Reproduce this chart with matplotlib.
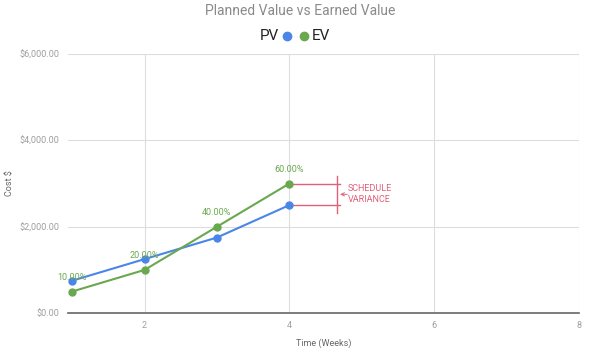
import matplotlib.pyplot as plt
from matplotlib.lines import Line2D

plt.rcParams['font.family'] = ['Roboto', 'DejaVu Sans']

# chart data
weeks = [1, 2, 3, 4]
pv = [750, 1250, 1750, 2500]
ev = [500, 1000, 2000, 3000]
ev_labels = ['10.00%', '20.00%', '40.00%', '60.00%']
x_ticks = [2, 4, 6, 8]
y_ticks = [0, 2000, 4000, 6000]
y_tick_labels = ['$0.00', '$2,000.00', '$4,000.00', '$6,000.00']

blue = '#4a86e8'
green = '#6aa84f'
red = '#e0607a'
grey = '#9e9e9e'

fig = plt.figure(figsize=(6, 3.55), dpi=100)
ax = fig.add_axes([0.113, 0.118, 0.852, 0.730])

ax.plot(weeks, pv, color=blue, lw=1.5, marker='o', ms=5, zorder=3)
ax.plot(weeks, ev, color=green, lw=1.5, marker='o', ms=5, zorder=3)

# data labels above the EV points
for x, y, lab in zip(weeks, ev, ev_labels):
    ax.annotate(lab, (x, y), xytext=(0, 7), textcoords='offset points',
                ha='center', va='bottom', fontsize=6.5, color=green)

# schedule variance marker
x_end = weeks[-1] + 0.70
x_bar = weeks[-1] + 0.66
ax.plot([weeks[-1], x_end], [ev[-1], ev[-1]], color=red, lw=1, zorder=2)
ax.plot([weeks[-1], x_end], [pv[-1], pv[-1]], color=red, lw=1, zorder=2)
ax.plot([x_bar, x_bar], [pv[-1] - 185, ev[-1] + 185], color=red, lw=1, zorder=2)
mid = (ev[-1] + pv[-1]) / 2
ax.annotate('', xy=(x_bar + 0.04, mid), xytext=(x_bar + 0.14, mid),
            arrowprops=dict(arrowstyle='->', color=red, lw=0.7,
                            mutation_scale=6, shrinkA=0, shrinkB=0))
ax.text(x_bar + 0.15, mid, 'SCHEDULE\nVARIANCE', color=red, fontsize=6.5,
        ha='left', va='center', linespacing=1.3)

ax.set_xlim(0.94, 8)
ax.set_ylim(0, 6000)
ax.set_xticks(x_ticks)
ax.set_yticks(y_ticks)
ax.set_yticklabels(y_tick_labels)
ax.tick_params(length=0, labelsize=6.5, colors=grey, pad=6)
ax.grid(True, color='#dddddd', lw=0.8)
ax.set_axisbelow(True)
for s in ['top', 'right', 'left']:
    ax.spines[s].set_visible(False)
ax.spines['bottom'].set_color('#666666')
ax.spines['bottom'].set_linewidth(1.2)

ax.set_xlabel('Time (Weeks)', fontsize=6.5, color='#666666')
ax.set_ylabel('Cost $', fontsize=6.5, color='#666666')
ax.xaxis.set_label_coords(0.5, -0.097)
ax.yaxis.set_label_coords(-0.104, 0.5)

fig.text(0.5, 0.969, 'Planned Value vs Earned Value', ha='center', va='center',
         fontsize=10, color='#8a8a8a')

# legend: "PV ●  ● EV"
fig.text(0.465, 0.898, 'PV', ha='right', va='center', fontsize=11, color='#222222')
fig.text(0.519, 0.898, 'EV', ha='left', va='center', fontsize=11, color='#222222')
fig.add_artist(Line2D([0.479], [0.898], marker='o', ms=6, color=blue, ls='',
                      transform=fig.transFigure))
fig.add_artist(Line2D([0.507], [0.898], marker='o', ms=6, color=green, ls='',
                      transform=fig.transFigure))

fig.savefig('out.png', dpi=100)
